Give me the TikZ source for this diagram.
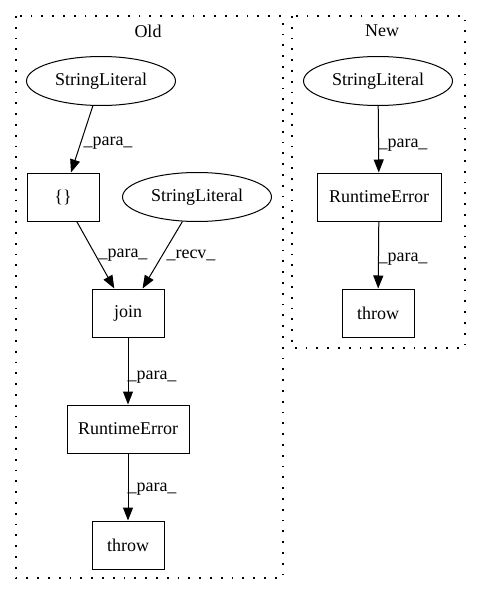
\documentclass[tikz,border=0pt]{standalone}
\usepackage{fontspec}
\setmainfont{Liberation Serif}
\usetikzlibrary{shapes.geometric,arrows.meta}
\begin{document}
\begin{tikzpicture}[x=1pt,y=-1pt,
 every node/.style={font=\fontsize{18}{21}\selectfont},
 box/.style={draw,line width=1pt,minimum height=48pt,inner sep=0pt},
 oval/.style={draw,ellipse,line width=1pt,minimum width=149pt,minimum height=49pt,inner sep=0pt},
 conn/.style={line width=1pt,-{Triangle[length=13pt,width=10pt]}},
 lbl/.style={inner sep=0pt},
 cluster/.style={line width=1.4pt,dash pattern=on 1.8pt off 9pt}]
\useasboundingbox (0,0) rectangle (480,596);
% clusters
\draw[cluster] (16,16) rectangle (283,578);
\draw[cluster] (292,16) rectangle (465,348);
\node (oldt) at (148,31) {Old};
\node (newt) at (382,31) {New};
% Old
\node[oval] (sl1) at (101,81) {StringLiteral};
\node[box,minimum width=72pt] (br) at (63,197) {\{\}};
\node[oval] (sl2) at (197,197) {StringLiteral};
\node[box,minimum width=72pt] (join) at (128,313) {join};
\node[box,minimum width=122pt] (re1) at (128,429) {RuntimeError};
\node[box,minimum width=72pt] (th1) at (128,545) {throw};
% New
\node[oval] (sl3) at (378,81) {StringLiteral};
\node[box,minimum width=124pt] (re2) at (379,197) {RuntimeError};
\node[box,minimum width=72pt] (th2) at (378,313) {throw};
% edges
\draw[conn] (sl1) -- (br);
\draw[conn] (br) -- (join);
\draw[conn] (sl2) -- (join);
\draw[conn] (join) -- (re1);
\draw[conn] (re1) -- (th1);
\draw[conn] (sl3) -- (re2);
\draw[conn] (re2) -- (th2);
% labels
\node[lbl] (l1) at (108,143) {\_para\_};
\node[lbl] (l2) at (123,255) {\_para\_};
\node[lbl] (l3) at (191,255) {\_recv\_};
\node[lbl] (l4) at (152,377) {\_para\_};
\node[lbl] (l5) at (152,489) {\_para\_};
\node[lbl] (l6) at (403,145) {\_para\_};
\node[lbl] (l7) at (403,259) {\_para\_};
\end{tikzpicture}
\end{document}
